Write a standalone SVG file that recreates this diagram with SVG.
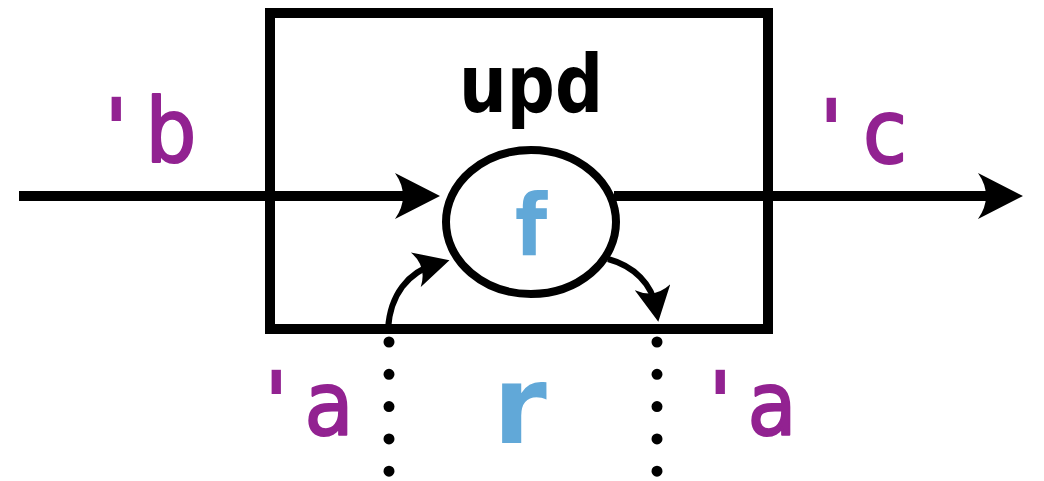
<svg xmlns="http://www.w3.org/2000/svg" width="1044" height="481" viewBox="0 0 1044 481">
  <style>
    .frame { fill: none; stroke: #000; stroke-width: 10; }
    .wire { fill: none; stroke: #000; stroke-width: 10; }
    .loop { fill: none; stroke: #000; stroke-width: 6; }
    .dots { fill: none; stroke: #000; stroke-width: 11; stroke-linecap: round; stroke-dasharray: 0 32.3; }
    .fn { fill: #fff; stroke: #000; stroke-width: 8; }
    .ty { font-family: "DejaVu Sans", "Liberation Sans", sans-serif; font-size: 89px; fill: #922291; stroke: #922291; stroke-width: 2.2; stroke-linejoin: round; }
    .tick { font-weight: bold; stroke-width: 0; }
    .name { font-family: "DejaVu Sans", "Liberation Sans", sans-serif; font-weight: bold; fill: #61a8d8; }
    .title { font-family: "DejaVu Sans", "Liberation Sans", sans-serif; font-weight: bold; font-size: 80px; fill: #000; }
  </style>
  <defs>
    <marker id="head" markerUnits="userSpaceOnUse" viewBox="0 0 46 46" markerWidth="46" markerHeight="46" refX="26" refY="23" orient="auto">
      <path d="M46,23 L1,0 Q17,23 1,46 Z" fill="#000"/>
    </marker>
    <marker id="headSmall" markerUnits="userSpaceOnUse" viewBox="0 0 36 36" markerWidth="36" markerHeight="36" refX="22" refY="18" orient="auto">
      <path d="M36,18 L1,0 Q13,18 1,36 Z" fill="#000"/>
    </marker>
  </defs>

  <!-- the upd block -->
  <g id="upd">
    <rect class="frame" x="270" y="13" width="498" height="316"/>
    <text class="title" x="459" y="112" textLength="144" lengthAdjust="spacingAndGlyphs">upd</text>
  </g>

  <!-- function node inside the block -->
  <g id="f">
    <ellipse class="fn" cx="531" cy="222" rx="85" ry="72"/>
    <text class="name" transform="translate(531,255) scale(0.86,1)" x="0" y="0" font-size="86" text-anchor="middle">f</text>
  </g>

  <!-- state label between the dotted boundaries -->
  <g id="r">
    <text class="name" x="493" y="443" font-size="109">r</text>
  </g>

  <!-- type labels (slightly narrowed glyphs) -->
  <g id="type-b">
    <text class="ty" transform="translate(104,162) scale(0.9,1)"><tspan class="tick" x="0">'</tspan><tspan x="46">b</tspan></text>
  </g>
  <g id="type-c">
    <text class="ty" transform="translate(819,163) scale(0.9,1)"><tspan class="tick" x="0">'</tspan><tspan x="49">c</tspan></text>
  </g>
  <g id="type-a-in">
    <text class="ty" transform="translate(264,435) scale(0.9,1)"><tspan class="tick" x="0">'</tspan><tspan x="45">a</tspan></text>
  </g>
  <g id="type-a-out">
    <text class="ty" transform="translate(708,435) scale(0.9,1)"><tspan class="tick" x="0">'</tspan><tspan x="44">a</tspan></text>
  </g>

  <!-- connectors -->
  <g id="connectors">
    <path class="wire" d="M19,196 H420" marker-end="url(#head)"/>
    <path class="wire" d="M614,196 H1003" marker-end="url(#head)"/>
    <path class="loop" d="M388,329 C390,295 408,272 436,264" marker-end="url(#headSmall)"/>
    <path class="loop" d="M608,259 C634,266 652,284 656,308" marker-end="url(#headSmall)"/>
    <path class="dots" d="M389,342 V472"/>
    <path class="dots" d="M657,342 V472"/>
  </g>
</svg>
